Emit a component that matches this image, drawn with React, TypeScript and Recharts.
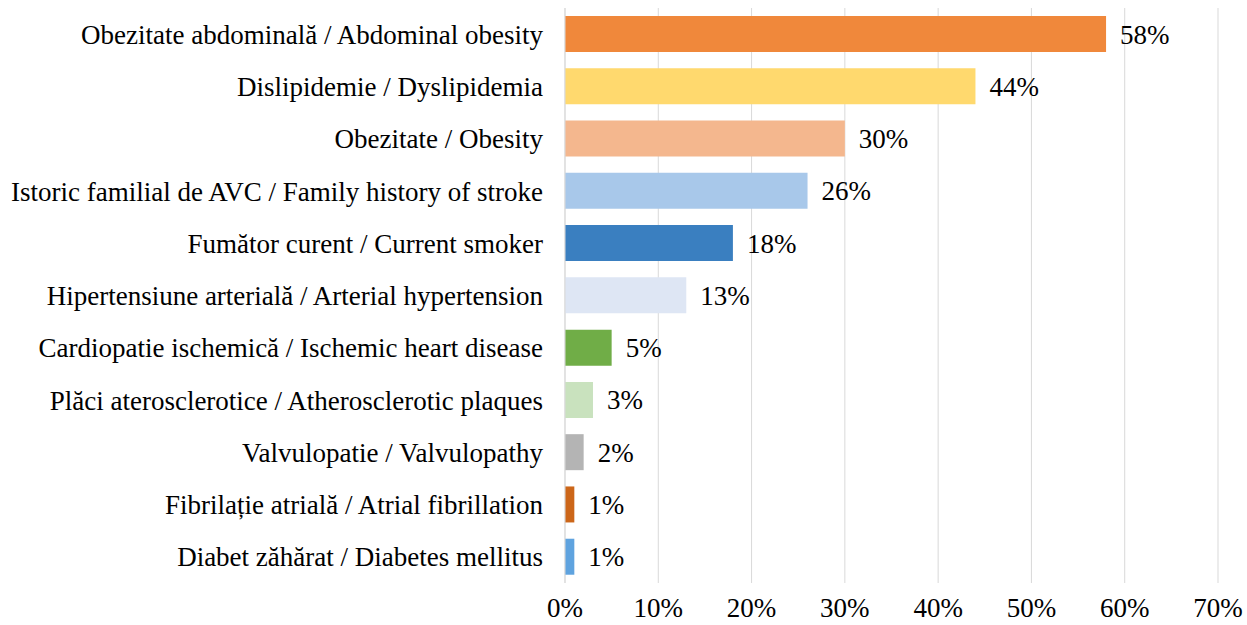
import { BarChart, Bar, XAxis, YAxis, CartesianGrid, Cell, LabelList } from 'recharts';

const categories = [
  'Obezitate abdominală / Abdominal obesity',
  'Dislipidemie / Dyslipidemia',
  'Obezitate / Obesity',
  'Istoric familial de AVC / Family history of stroke',
  'Fumător curent / Current smoker',
  'Hipertensiune arterială / Arterial hypertension',
  'Cardiopatie ischemică / Ischemic heart disease',
  'Plăci aterosclerotice / Atherosclerotic plaques',
  'Valvulopatie / Valvulopathy',
  'Fibrilație atrială / Atrial fibrillation',
  'Diabet zăhărat / Diabetes mellitus',
];
const values = [58, 44, 30, 26, 18, 13, 5, 3, 2, 1, 1];
const colors = [
  '#F0883B', '#FFD96E', '#F4B78E', '#A8C8EA', '#3A7FC0', '#DEE6F4',
  '#70AD47', '#C9E2BE', '#B4B4B4', '#CC6619', '#5FA3DF',
];
const xTicks = [0, 10, 20, 30, 40, 50, 60, 70];

const data = categories.map((name, i) => ({ name, value: values[i] }));
const font = 'Liberation Serif';
const textStyle = { fill: '#000', fontSize: 27, fontFamily: font };

export default function App() {
  return (
    <div style={{ position: 'absolute', left: 0, top: 0, fontFamily: font }}>
      <BarChart
        width={1247}
        height={625}
        data={data}
        layout="vertical"
        margin={{ top: 8, right: 29, bottom: 0, left: 0 }}
      >
        <CartesianGrid horizontal={false} stroke="#d9d9d9" />
        <XAxis
          type="number"
          domain={[0, 70]}
          ticks={xTicks}
          tickFormatter={(v) => `${v}%`}
          axisLine={false}
          tickLine={false}
          tickSize={0}
          tickMargin={15}
          height={42}
          tick={textStyle}
        />
        <YAxis
          type="category"
          dataKey="name"
          width={565}
          axisLine={{ stroke: '#d9d9d9' }}
          tickLine={false}
          tickSize={0}
          tickMargin={22}
          interval={0}
          tick={textStyle}
        />
        <Bar dataKey="value" barSize={36} isAnimationActive={false}>
          {data.map((d, i) => (
            <Cell key={d.name} fill={colors[i]} />
          ))}
          <LabelList
            dataKey="value"
            position="right"
            offset={14}
            formatter={(v: number) => `${v}%`}
            style={textStyle}
          />
        </Bar>
      </BarChart>
    </div>
  );
}
